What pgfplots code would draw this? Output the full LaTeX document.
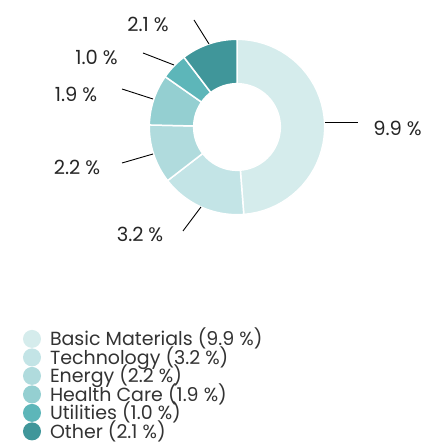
\documentclass[border=0pt]{standalone}
\usepackage{fontspec}
\setmainfont{Poppins}
\usepackage{pgfplots}
\usepackage{pgfplotstable}
\pgfplotsset{compat=1.18}
\definecolor{cBM}{HTML}{D5ECEC}
\definecolor{cTE}{HTML}{C3E4E6}
\definecolor{cEN}{HTML}{B0DBDD}
\definecolor{cHC}{HTML}{94CFD1}
\definecolor{cUT}{HTML}{5DB6B9}
\definecolor{cOT}{HTML}{40969A}
\pgfplotstableread[col sep=comma]{
sector,value
Basic Materials,9.9
Technology,3.2
Energy,2.2
Health Care,1.9
Utilities,1.0
Other,2.1
}\sectors
\newcommand\cx{237}
\newcommand\cy{321}
\newcommand\Ro{87.7}
\newcommand\Ri{43.3}
% slice from angle #1 to angle #2 (degrees), colour #3; parameter x runs 0..4
\newcommand\slice[3]{%
\addplot[fill=#3, draw=white, line width=1.5bp, domain=0:4, samples=161]
({\cx + ifthenelse(x<=1, \Ro, ifthenelse(x<=2, \Ro+(\Ri-\Ro)*(x-1), ifthenelse(x<=3, \Ri, \Ri+(\Ro-\Ri)*(x-3))))
   * cos(ifthenelse(x<=1, #1+(#2-#1)*x, ifthenelse(x<=2, #2, ifthenelse(x<=3, #2+(#1-#2)*(x-2), #1))))},
 {\cy + ifthenelse(x<=1, \Ro, ifthenelse(x<=2, \Ro+(\Ri-\Ro)*(x-1), ifthenelse(x<=3, \Ri, \Ri+(\Ro-\Ri)*(x-3))))
   * sin(ifthenelse(x<=1, #1+(#2-#1)*x, ifthenelse(x<=2, #2, ifthenelse(x<=3, #2+(#1-#2)*(x-2), #1))))});
}
\begin{document}
\begin{tikzpicture}
\pgfplotstablegetelem{0}{value}\of\sectors \let\vA\pgfplotsretval
\pgfplotstablegetelem{1}{value}\of\sectors \let\vB\pgfplotsretval
\pgfplotstablegetelem{2}{value}\of\sectors \let\vC\pgfplotsretval
\pgfplotstablegetelem{3}{value}\of\sectors \let\vD\pgfplotsretval
\pgfplotstablegetelem{4}{value}\of\sectors \let\vE\pgfplotsretval
\pgfplotstablegetelem{5}{value}\of\sectors \let\vF\pgfplotsretval
\pgfmathsetmacro\tot{\vA+\vB+\vC+\vD+\vE+\vF}
\pgfmathsetmacro\aA{90}
\pgfmathsetmacro\aB{\aA-360*\vA/\tot}
\pgfmathsetmacro\aC{\aB-360*\vB/\tot}
\pgfmathsetmacro\aD{\aC-360*\vC/\tot}
\pgfmathsetmacro\aE{\aD-360*\vD/\tot}
\pgfmathsetmacro\aF{\aE-360*\vE/\tot}
\pgfmathsetmacro\aG{\aF-360*\vF/\tot}
\begin{axis}[
  width=425bp, height=448bp, scale only axis,
  xmin=0, xmax=425, ymin=0, ymax=448,
  hide axis, clip=false,
  legend cell align=left,
  legend image code/.code={\fill[#1, draw=none] (0bp,0bp) circle (9bp);},
  legend style={at={(axis cs:23,119)}, anchor=north west, draw=none, fill=none,
    inner sep=0pt, outer sep=0pt, row sep=-1.3bp, column sep=9bp,
    font=\fontsize{19bp}{19bp}\selectfont, text=black!80,
    nodes={inner sep=0pt, outer sep=0pt, text height=17bp, text depth=2.8bp}},
]
\slice{\aA}{\aB}{cBM}
\addlegendentry{Basic Materials (9.9 \%)}
\slice{\aB}{\aC}{cTE}
\addlegendentry{Technology (3.2 \%)}
\slice{\aC}{\aD}{cEN}
\addlegendentry{Energy (2.2 \%)}
\slice{\aD}{\aE}{cHC}
\addlegendentry{Health Care (1.9 \%)}
\slice{\aE}{\aF}{cUT}
\addlegendentry{Utilities (1.0 \%)}
\slice{\aF}{\aG}{cOT}
\addlegendentry{Other (2.1 \%)}
% leader lines
\draw[black, line width=0.9bp] (axis cs:325,325.3) -- (axis cs:358,325.3);
\draw[black, line width=0.9bp] (axis cs:194,428) -- (axis cs:209,404);
\draw[black, line width=0.9bp] (axis cs:143,395) -- (axis cs:174,383);
\draw[black, line width=0.9bp] (axis cs:122,359) -- (axis cs:153,349);
\draw[black, line width=0.9bp] (axis cs:122,285) -- (axis cs:153,294);
\draw[black, line width=0.9bp] (axis cs:183,217) -- (axis cs:201,241);
% labels
\begin{scope}[every node/.style={inner sep=0pt, font=\fontsize{19.5bp}{19.5bp}\selectfont, text=black!85}]
\node at (axis cs:397.5,320) {9.9\hspace{0.25em}\%};
\node at (axis cs:148,424) {2.1\hspace{0.25em}\%};
\node at (axis cs:96.5,390.5) {1.0\hspace{0.25em}\%};
\node at (axis cs:76,353.5) {1.9\hspace{0.25em}\%};
\node at (axis cs:77,280.5) {2.2\hspace{0.25em}\%};
\node at (axis cs:140,213.5) {3.2\hspace{0.25em}\%};
\end{scope}
\end{axis}
\pgfresetboundingbox
\path (0,0) rectangle (425bp,448bp);
\end{tikzpicture}
\end{document}
